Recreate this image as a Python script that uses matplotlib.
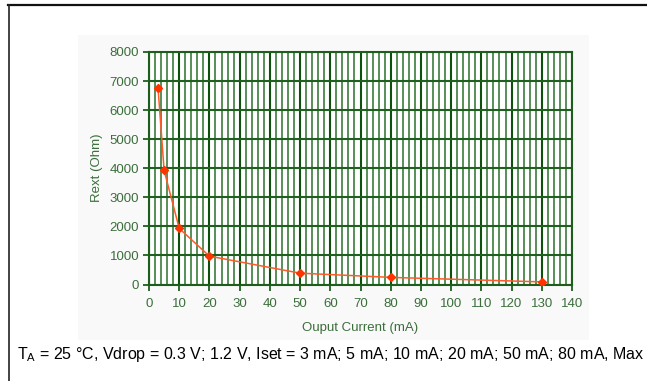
import matplotlib.pyplot as plt
from matplotlib.lines import Line2D
from matplotlib.patches import Rectangle
from matplotlib.ticker import MultipleLocator

plt.rcParams['font.family'] = ['Liberation Sans', 'DejaVu Sans']
plt.rcParams['mathtext.fontset'] = 'custom'
plt.rcParams['mathtext.rm'] = 'Liberation Sans'

# data
current = [3, 5, 10, 20, 50, 80, 130]        # mA
rext = [6750, 3930, 1930, 975, 390, 245, 90]  # Ohm

xticks = list(range(0, 141, 10))
yticks = list(range(0, 8001, 1000))

green = '#1d5e1d'
label_green = '#3b6e3b'

fig = plt.figure(figsize=(6.47, 3.81), dpi=100)

# outer frame lines (top and left)
fig.add_artist(Line2D([8/647, 1], [1 - 5/381, 1 - 5/381], color='#111111', lw=1.6))
fig.add_artist(Line2D([9/647, 9/647], [0, 1 - 5/381], color='#222222', lw=1.2))

# light panel behind chart
fig.add_artist(Rectangle((78/647, 1 - 340/381), (589 - 78)/647, (340 - 35)/381,
                         facecolor='#f9f9f9', edgecolor='none', zorder=0))

ax = fig.add_axes([149/647, 1 - 284.5/381, (572 - 149)/647, (284.5 - 52)/381])
ax.set_facecolor('white')

ax.plot(current, rext, color='#ff5a2a', lw=1.1, marker='D', markersize=4,
        markerfacecolor='#ff3300', markeredgecolor='#ff3300', zorder=5)

ax.set_xlim(0, 140)
ax.set_ylim(0, 8000)
ax.set_xticks(xticks)
ax.set_yticks(yticks)
ax.xaxis.set_minor_locator(MultipleLocator(2))

ax.grid(which='minor', axis='x', color='#4a874a', lw=1.3)
ax.grid(which='major', axis='x', color='#0c520c', lw=1.5)
ax.grid(which='major', axis='y', color='#1f5f1f', lw=1.5)
ax.set_axisbelow(True)

for s in ax.spines.values():
    s.set_color(green)
    s.set_linewidth(1.5)

ax.tick_params(axis='both', which='major', colors=green, labelcolor=label_green,
               labelsize=9.5, length=4, width=1.3)
ax.tick_params(axis='x', which='minor', length=0)
ax.tick_params(axis='y', pad=3)
ax.tick_params(axis='x', pad=6)

ax.set_ylabel('Rext (Ohm)', color=label_green, fontsize=9.5, labelpad=5)
ax.set_xlabel('Ouput Current (mA)', color=label_green, fontsize=9.5, labelpad=8)

fig.text(17/647, 1 - 354/381,
         r'T$_\mathregular{A}$ = 25 °C, Vdrop = 0.3 V; 1.2 V, Iset = 3 mA; 5 mA; 10 mA; 20 mA; 50 mA; 80 mA, Max',
         fontsize=11.55, color='black', va='center', ha='left')

fig.savefig('out.png', dpi=100)
